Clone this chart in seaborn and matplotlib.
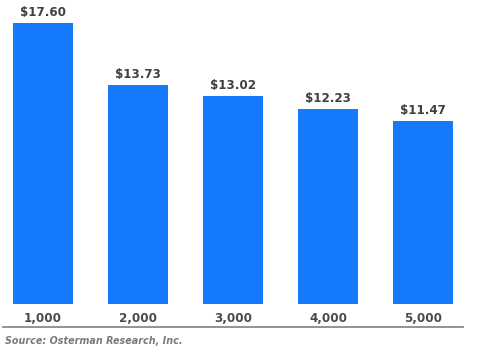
import matplotlib
matplotlib.use("Agg")
import matplotlib.pyplot as plt
import seaborn as sns
import pandas as pd

categories = ["1,000", "2,000", "3,000", "4,000", "5,000"]
values = [17.60, 13.73, 13.02, 12.23, 11.47]
value_labels = ["$17.60", "$13.73", "$13.02", "$12.23", "$11.47"]
source = "Source: Osterman Research, Inc."

sns.set_theme(style="white")
plt.rcParams['font.family'] = ['DejaVu Sans']

df = pd.DataFrame({"cat": categories, "val": values})

fig = plt.figure(figsize=(4.81, 3.55), dpi=100)
ax = fig.add_axes([3/481, 28/355, 460/481, 327/355])
sns.barplot(data=df, x="cat", y="val", color="#1479fb", saturation=1, width=0.63, ax=ax)
for p in ax.patches:
    p.set_edgecolor("none")

ax.set_xlim(-0.42, 4.42)
ax.set_ylim(-1.44, 19.04)
for s in ["top", "right", "left"]:
    ax.spines[s].set_visible(False)
ax.spines["bottom"].set_color("#8a8a8a")
ax.spines["bottom"].set_linewidth(1.3)
ax.set_xticks([]); ax.set_yticks([])
ax.set_xlabel(""); ax.set_ylabel("")

for i, (v, lab) in enumerate(zip(values, value_labels)):
    ax.annotate(lab, (i, v), xytext=(0, 3), textcoords="offset points",
                ha="center", va="bottom", fontsize=8.6, fontweight="bold", color="#404040")
    ax.text(i, -0.9, categories[i], ha="center", va="center", fontsize=8.6,
            fontweight="bold", color="#4a4a4a")

fig.text(5/481, 1 - 341/355, source, ha="left", va="center", fontsize=6.9,
         style="italic", fontweight="bold", color="#7a7a7a")

fig.savefig("out.png", dpi=100)
